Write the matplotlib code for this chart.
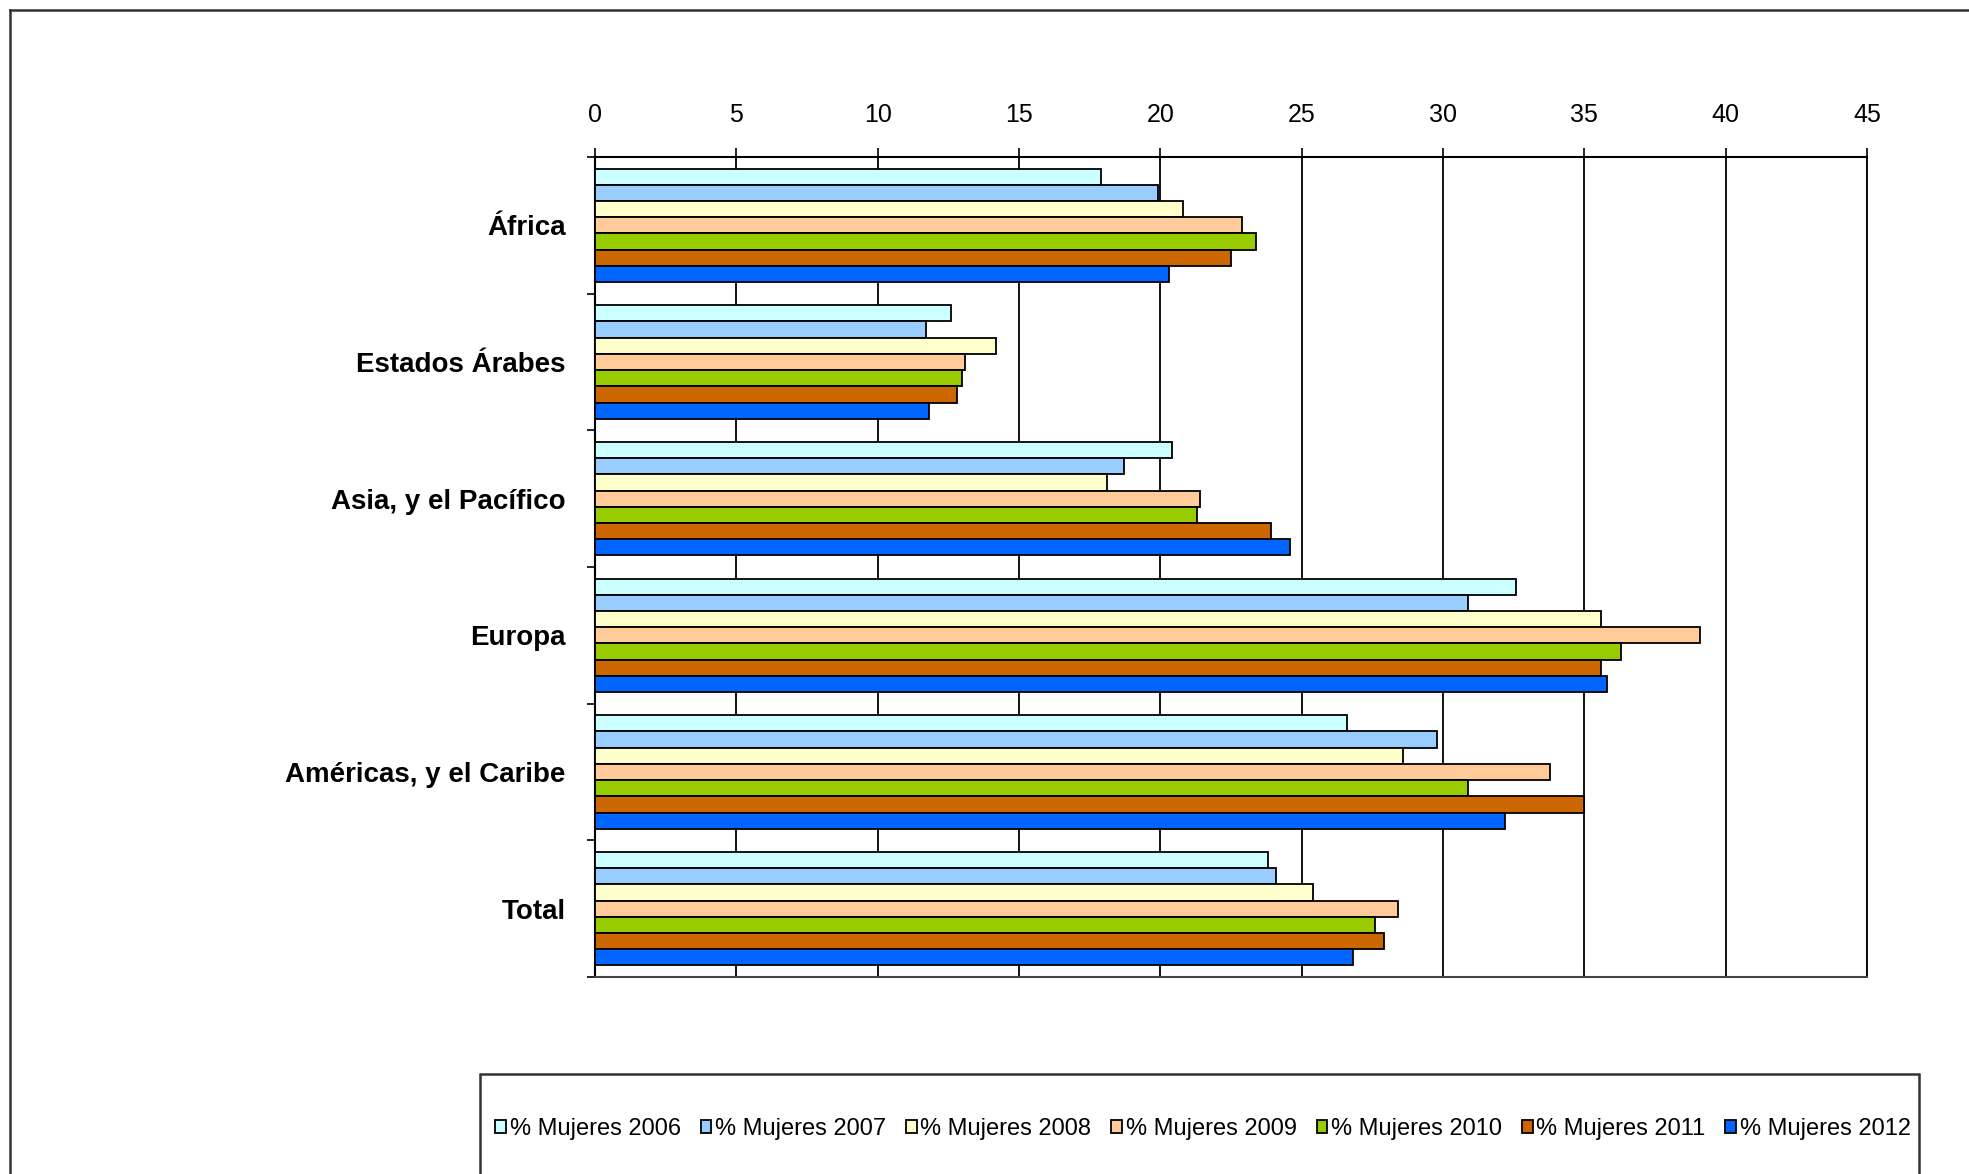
import matplotlib.pyplot as plt
import numpy as np
from matplotlib.lines import Line2D
from matplotlib.patches import Rectangle

plt.rcParams['font.family'] = ['Liberation Sans', 'DejaVu Sans']

regions = ['África', 'Estados Árabes', 'Asia, y el Pacífico', 'Europa',
           'Américas, y el Caribe', 'Total']
years = ['2006', '2007', '2008', '2009', '2010', '2011', '2012']

mujeres_2006 = [17.9, 12.6, 20.4, 32.6, 26.6, 23.8]
mujeres_2007 = [19.9, 11.7, 18.7, 30.9, 29.8, 24.1]
mujeres_2008 = [20.8, 14.2, 18.1, 35.6, 28.6, 25.4]
mujeres_2009 = [22.9, 13.1, 21.4, 39.1, 33.8, 28.4]
mujeres_2010 = [23.4, 13.0, 21.3, 36.3, 30.9, 27.6]
mujeres_2011 = [22.5, 12.8, 23.9, 35.6, 35.0, 27.9]
mujeres_2012 = [20.3, 11.8, 24.6, 35.8, 32.2, 26.8]

series = [mujeres_2006, mujeres_2007, mujeres_2008, mujeres_2009,
          mujeres_2010, mujeres_2011, mujeres_2012]
colors = ['#CCFFFF', '#99CCFF', '#FFFFCC', '#FFCC99', '#99CC00', '#CC6600', '#0066FF']

W, H = 1969, 1174
fig = plt.figure(figsize=(W / 100, H / 100), dpi=100)
ax = fig.add_axes([595 / W, 1 - 977 / H, (1867 - 595) / W, (977 - 157) / H])

n = len(series)
group = 0.83
bh = group / n
y = np.arange(len(regions))
for i, (vals, c) in enumerate(zip(series, colors)):
    ax.barh(y - group / 2 + bh * (i + 0.5), vals, height=bh, color=c,
            edgecolor='black', linewidth=1.3, zorder=3,
            label='% Mujeres ' + years[i])

ax.set_xlim(0, 45)
ax.set_ylim(len(regions) - 0.5, -0.5)
ax.set_xticks(np.arange(0, 46, 5))
ax.xaxis.tick_top()
ax.tick_params(axis='x', direction='out', length=6.5, width=1.2, pad=15,
               labelsize=18, colors='black')
ax.grid(axis='x', color='black', linewidth=1.3, zorder=1)

ax.set_yticks(y)
ax.set_yticklabels(regions, fontsize=20, fontweight='bold')
ax.set_yticks(np.arange(len(regions) + 1) - 0.5, minor=True)
ax.tick_params(axis='y', which='major', length=0, pad=21)
ax.tick_params(axis='y', which='minor', length=6, width=1.2, direction='out')

for s in ['top', 'left']:
    ax.spines[s].set_linewidth(1.5)
ax.spines['right'].set_linewidth(1.3)
ax.spines['bottom'].set_linewidth(1.5)
ax.spines['bottom'].set_color('#444444')

# outer chart border and legend frame (run off the picture)
fig.add_artist(Line2D([10 / W, 1], [1 - 10 / H, 1 - 10 / H], color='#333333', lw=1.8))
fig.add_artist(Line2D([10 / W, 10 / W], [0, 1 - 10 / H], color='#333333', lw=1.8))
fig.add_artist(Rectangle((480 / W, -0.1), (1919 - 480) / W, 0.1 + 1 - 1074 / H,
                         transform=fig.transFigure, fill=False,
                         edgecolor='#333333', lw=1.8, clip_on=False))

handles, labels = ax.get_legend_handles_labels()
fig.legend(handles, labels, ncol=7, loc='center', frameon=False,
           bbox_to_anchor=(1203 / W, 1 - 1129 / H), fontsize=17,
           handlelength=0.45, handleheight=0.45, handletextpad=0.15,
           columnspacing=0.85)

fig.savefig('out.png', dpi=100)
